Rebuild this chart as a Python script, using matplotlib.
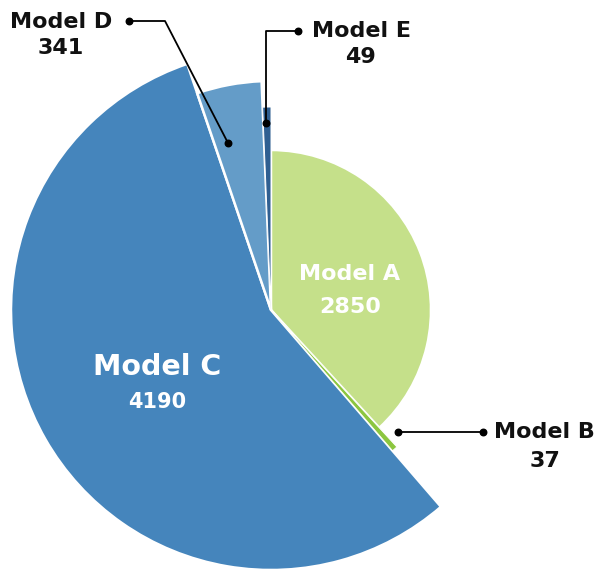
import matplotlib.pyplot as plt
import numpy as np
from matplotlib.patches import Wedge

# data
models = ["Model A", "Model B", "Model C", "Model D", "Model E"]
counts = [2850, 37, 4190, 341, 49]

# styling (pixel space, y down)
colors = ["#c5e08a", "#8cc63f", "#4585bc", "#649cc8", "#2f5f91"]
radii = [160, 186, 260, 229, 203]
edge_w = [1.8, 0.7, 1.8, 1.8, 0.7]   # thin slices get a thinner white gap
center = (271, 310)

fig = plt.figure(figsize=(5.96, 5.69), dpi=100)
ax = fig.add_axes([0, 0, 1, 1])
ax.set_xlim(0, 596)
ax.set_ylim(569, 0)
ax.set_aspect("equal")
ax.axis("off")

# slices clockwise from 12 o'clock
fracs = np.array(counts) / np.sum(counts) * 360
starts = np.concatenate([[0], np.cumsum(fracs)[:-1]])
for start, span, r, col, lw in zip(starts, fracs, radii, colors, edge_w):
    ax.add_patch(Wedge(center, r, 270 + start, 270 + start + span,
                       facecolor=col, edgecolor="white", linewidth=lw,
                       zorder=2 if lw < 1 else 1))

font = dict(family="DejaVu Sans", fontweight="bold", ha="center", va="baseline")

# inside labels
ax.text(350, 280, models[0], color="white", fontsize=16, **font)
ax.text(350, 313, f"{counts[0]}", color="white", fontsize=16, **font)
ax.text(157, 375, models[2], color="white", fontsize=20.5, **font)
ax.text(157, 408, f"{counts[2]}", color="white", fontsize=15, **font)

# outside labels with leaders
line_kw = dict(color="black", linewidth=1.3, zorder=5)
dot_kw = dict(color="black", s=22, zorder=6)

# Model D
ax.plot([129, 165, 228], [21, 21, 143], **line_kw)
ax.scatter([129, 228], [21, 143], **dot_kw)
ax.text(61, 28, models[3], color="#111111", fontsize=16, **font)
ax.text(61, 54, f"{counts[3]}", color="#111111", fontsize=16, **font)

# Model E
ax.plot([298, 266, 266], [31, 31, 123], **line_kw)
ax.scatter([298, 266], [31, 123], **dot_kw)
ax.text(361, 37, models[4], color="#111111", fontsize=16, **font)
ax.text(360, 63, f"{counts[4]}", color="#111111", fontsize=16, **font)

# Model B
ax.plot([398, 483], [432, 432], **line_kw)
ax.scatter([398, 483], [432, 432], **dot_kw)
ax.text(544, 438, models[1], color="#111111", fontsize=16, **font)
ax.text(545, 467, f"{counts[1]}", color="#111111", fontsize=16, **font)

fig.savefig("out.png", dpi=100)
plt.close(fig)
